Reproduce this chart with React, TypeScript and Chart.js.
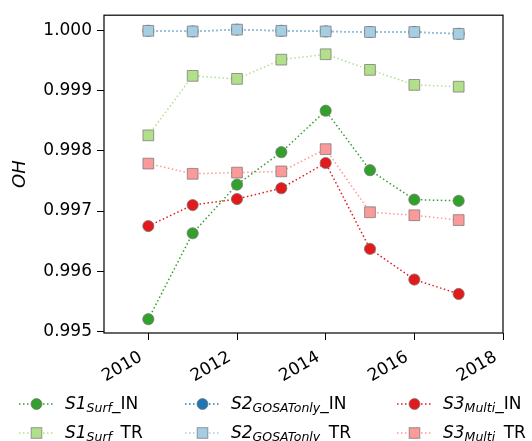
import React, { useEffect, useRef } from 'react';
import { Chart, registerables } from 'chart.js';
Chart.register(...registerables);

const years = [2010, 2011, 2012, 2013, 2014, 2015, 2016, 2017];
const s1In = [0.9952, 0.99663, 0.99744, 0.99798, 0.99867, 0.99768, 0.99719, 0.99717];
const s1Tr = [0.99826, 0.99925, 0.9992, 0.99952, 0.99961, 0.99935, 0.9991, 0.99907];
const s2In = [1.0, 0.99999, 1.00002, 1.0, 0.99999, 0.99998, 0.99998, 0.99995];
const s2Tr = [1.0, 0.99999, 1.00002, 1.0, 0.99999, 0.99998, 0.99998, 0.99995];
const s3In = [0.99675, 0.9971, 0.9972, 0.99738, 0.9978, 0.99637, 0.99586, 0.99562];
const s3Tr = [0.99779, 0.99762, 0.99764, 0.99766, 0.99803, 0.99698, 0.99693, 0.99685];
const yTicks = [0.995, 0.996, 0.997, 0.998, 0.999, 1.0];
const xTicks = [2010, 2012, 2014, 2016, 2018];

const C_S1_IN = '#33a02c';
const C_S1_TR = '#b2df8a';
const C_S2_IN = '#1f78b4';
const C_S2_TR = '#a6cee3';
const C_S3_IN = '#e31a1c';
const C_S3_TR = '#fb9a99';
const EDGE = 'rgba(120,120,120,0.75)';
const FONT = 'DejaVu Sans';

function ds(label: string, values: number[], color: string, shape: string, order: number) {
  return {
    label,
    data: years.map((y, i) => ({ x: y, y: values[i] })),
    borderColor: color,
    backgroundColor: color,
    pointBackgroundColor: color,
    pointBorderColor: EDGE,
    pointBorderWidth: 1,
    pointStyle: shape,
    pointRadius: shape === 'rect' ? 7.6 : 5.6,
    borderWidth: 1.5,
    borderDash: [1.5, 2.5],
    borderCapStyle: 'butt',
    tension: 0,
    order,
  };
}

const framePlugin = {
  id: 'frame',
  afterDraw(chart: any) {
    const { ctx, chartArea } = chart;
    ctx.save();
    ctx.strokeStyle = '#000';
    ctx.lineWidth = 1.2;
    ctx.strokeRect(chartArea.left, chartArea.top, chartArea.right - chartArea.left, chartArea.bottom - chartArea.top);
    ctx.restore();
  },
};

function LegendItem(props: { x: number; y: number; color: string; shape: string; main: string; sub: string; suffix: string }) {
  const { x, y, color, shape, main, sub, suffix } = props;
  return (
    <div style={{ position: 'absolute', left: x, top: y - 10, height: 20, display: 'flex', alignItems: 'center', whiteSpace: 'nowrap' }}>
      <svg width={35} height={20} style={{ display: 'block' }}>
        <line x1={0} y1={10} x2={35} y2={10} stroke={color} strokeWidth={1.5} strokeDasharray="1.5 2.5" />
        {shape === 'circle' ? (
          <circle cx={17.5} cy={10} r={5.5} fill={color} stroke={EDGE} strokeWidth={1} />
        ) : (
          <rect x={12.2} y={4.7} width={10.6} height={10.6} fill={color} stroke={EDGE} strokeWidth={1} />
        )}
      </svg>
      <span style={{ marginLeft: 11, fontSize: 17, fontFamily: FONT, lineHeight: '20px', color: '#000' }}>
        <i>{main}</i>
        <i style={{ fontSize: 12.5, position: 'relative', top: 3 }}>{sub}</i>
        {suffix}
      </span>
    </div>
  );
}

export default function App() {
  const ref = useRef<HTMLCanvasElement>(null);
  useEffect(() => {
    if (!ref.current) return;
    const chart = new Chart(ref.current, {
      type: 'line',
      data: {
        datasets: [
          ds('S1_IN', s1In, C_S1_IN, 'circle', 3),
          ds('S1_TR', s1Tr, C_S1_TR, 'rect', 2),
          ds('S2_IN', s2In, C_S2_IN, 'circle', 10),
          ds('S2_TR', s2Tr, C_S2_TR, 'rect', 1),
          ds('S3_IN', s3In, C_S3_IN, 'circle', 4),
          ds('S3_TR', s3Tr, C_S3_TR, 'rect', 5),
        ] as any,
      },
      options: {
        responsive: false,
        animation: false,
        devicePixelRatio: 1,
        layout: { padding: { left: 0, top: 12, right: 29, bottom: 0 } },
        plugins: { legend: { display: false }, tooltip: { enabled: false } },
        scales: {
          x: {
            type: 'linear',
            min: 2009,
            max: 2018,
            afterFit: (s: any) => { s.height = 108; },
            afterBuildTicks: (s: any) => { s.ticks = xTicks.map((v) => ({ value: v })); },
            grid: { display: true, drawOnChartArea: false, drawTicks: true, tickLength: 7, color: '#000', tickWidth: 1 },
            border: { display: false },
            ticks: {
              minRotation: 30,
              maxRotation: 30,
              autoSkip: false,
              padding: 3,
              color: '#000',
              font: { family: FONT, size: 17 },
              callback: (v: any) => String(v) + '\u2002',
            },
          },
          y: {
            type: 'linear',
            min: 0.99497,
            max: 1.00026,
            afterFit: (s: any) => { s.width = 104; },
            afterBuildTicks: (s: any) => { s.ticks = yTicks.map((v) => ({ value: v })); },
            grid: { display: true, drawOnChartArea: false, drawTicks: true, tickLength: 7, color: '#000', tickWidth: 1 },
            border: { display: false },
            ticks: {
              padding: 5,
              color: '#000',
              font: { family: FONT, size: 17 },
              callback: (v: any) => Number(v).toFixed(3),
            },
            title: {
              display: true,
              text: 'OH',
              color: '#000',
              padding: { top: 10, bottom: 0 },
              font: { family: FONT, size: 18, style: 'italic' },
            },
          },
        },
      },
      plugins: [framePlugin],
    } as any);
    return () => chart.destroy();
  }, []);

  return (
    <div style={{ position: 'absolute', left: 0, top: 0, width: 532, height: 441, overflow: 'hidden', background: '#fff' }}>
      <canvas ref={ref} width={532} height={441} style={{ position: 'absolute', left: 0, top: 0, width: 532, height: 441 }} />
      <LegendItem x={19} y={404} color={C_S1_IN} shape="circle" main="S1" sub="Surf" suffix="_IN" />
      <LegendItem x={19} y={433} color={C_S1_TR} shape="rect" main="S1" sub="Surf" suffix="_TR" />
      <LegendItem x={185} y={404} color={C_S2_IN} shape="circle" main="S2" sub="GOSATonly" suffix="_IN" />
      <LegendItem x={185} y={433} color={C_S2_TR} shape="rect" main="S2" sub="GOSATonly" suffix="_TR" />
      <LegendItem x={397} y={404} color={C_S3_IN} shape="circle" main="S3" sub="Multi" suffix="_IN" />
      <LegendItem x={397} y={433} color={C_S3_TR} shape="rect" main="S3" sub="Multi" suffix="_TR" />
    </div>
  );
}
